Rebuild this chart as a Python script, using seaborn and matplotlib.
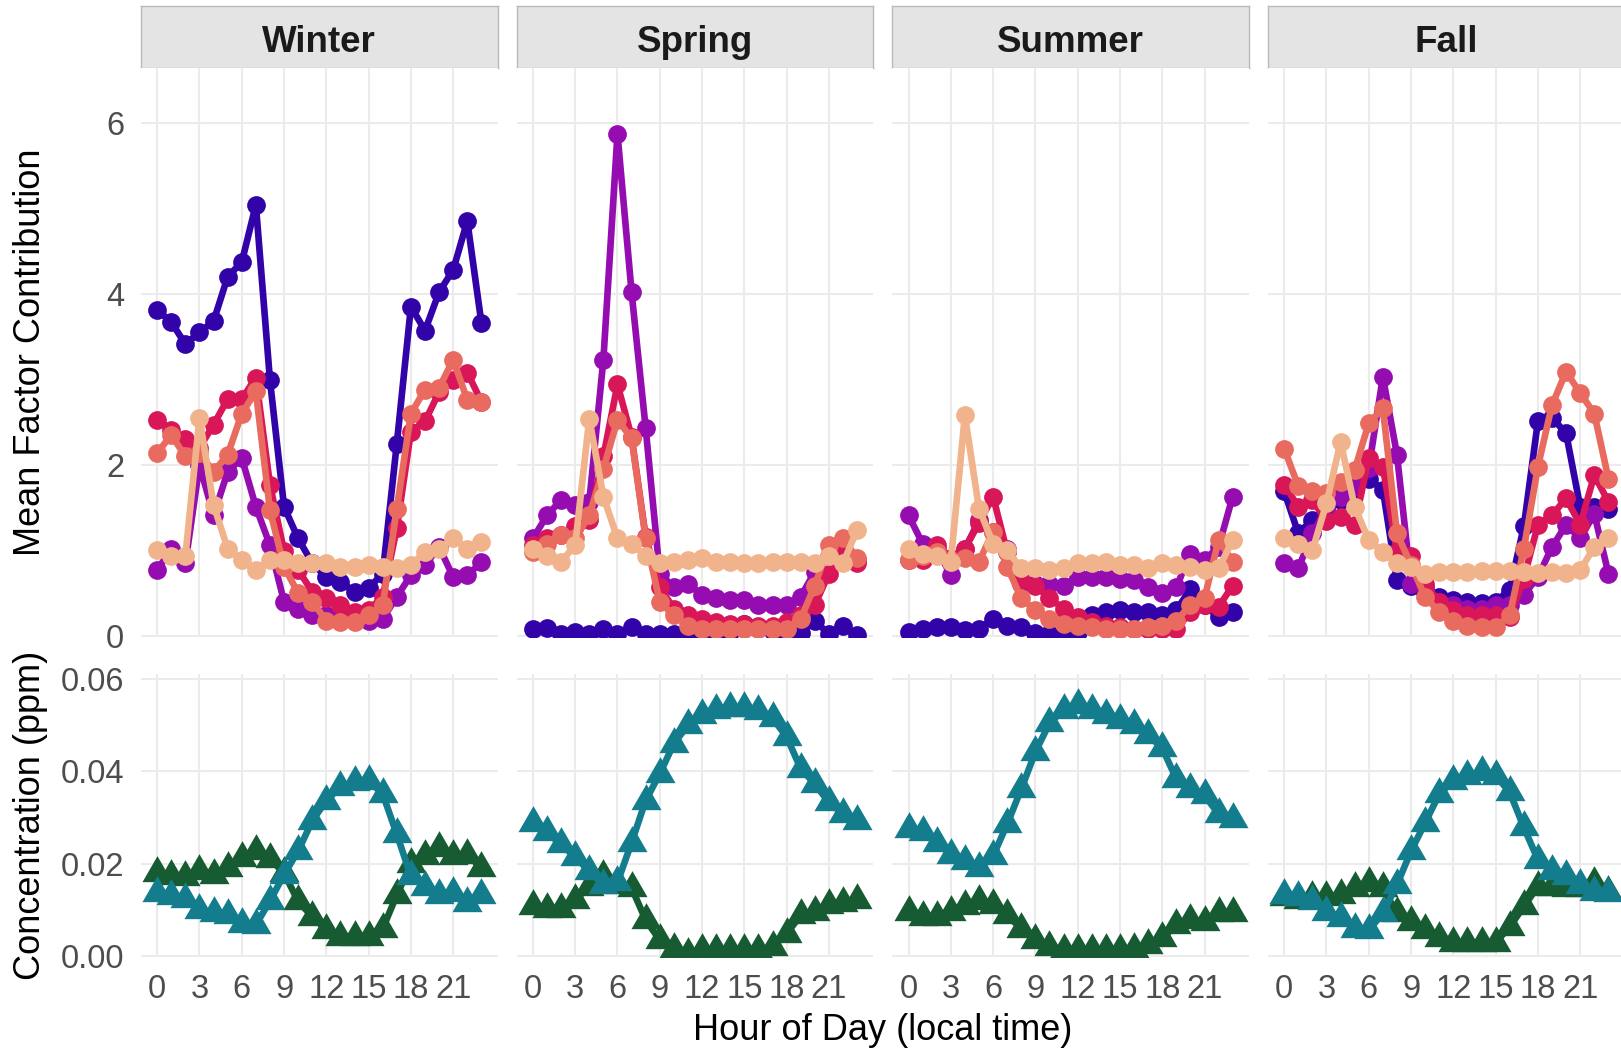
import numpy as np
import pandas as pd
import matplotlib
matplotlib.use('Agg')
import matplotlib.pyplot as plt
from matplotlib.path import Path
import seaborn as sns

hours = list(range(24))
seasons = ['Winter', 'Spring', 'Summer', 'Fall']
factors = ['Factor 1', 'Factor 2', 'Factor 3', 'Factor 4', 'Factor 5']
gases = ['NO2', 'O3']

factor_colors = ['#3103a8', '#950db0', '#d81658', '#e96a5f', '#f1b38b']
gas_colors = ['#165b32', '#137d8e']

# mean factor contribution, one list per factor and season
winter_f1 = [3.81, 3.67, 3.41, 3.55, 3.68, 4.20, 4.37, 5.04, 2.99, 1.51, 1.14, 0.85, 0.69, 0.63, 0.52, 0.56, 0.73, 2.25, 3.85, 3.57, 4.02, 4.28, 4.85, 3.66]
winter_f2 = [0.77, 1.02, 0.85, 2.00, 1.41, 1.92, 2.08, 1.51, 1.06, 0.40, 0.32, 0.24, 0.24, 0.20, 0.18, 0.18, 0.20, 0.46, 0.71, 0.83, 1.04, 0.69, 0.71, 0.86]
winter_f3 = [2.53, 2.41, 2.30, 2.20, 2.47, 2.77, 2.77, 3.02, 1.77, 0.99, 0.77, 0.52, 0.44, 0.36, 0.28, 0.30, 0.46, 1.26, 2.39, 2.51, 2.85, 2.99, 3.08, 2.74]
winter_f4 = [2.14, 2.35, 2.10, 2.14, 1.92, 2.12, 2.60, 2.86, 1.47, 0.81, 0.50, 0.40, 0.18, 0.16, 0.16, 0.24, 0.36, 1.49, 2.60, 2.88, 2.90, 3.23, 2.76, 2.74]
winter_f5 = [1.00, 0.94, 0.94, 2.55, 1.53, 1.02, 0.89, 0.77, 0.89, 0.89, 0.85, 0.85, 0.85, 0.81, 0.81, 0.83, 0.81, 0.79, 0.83, 0.98, 1.02, 1.14, 1.02, 1.10]

spring_f1 = [0.08, 0.09, 0.02, 0.05, 0.02, 0.08, 0.02, 0.10, 0.02, 0.02, 0.02, 0.02, 0.01, 0.01, 0.05, 0.14, 0.10, 0.06, 0.04, 0.03, 0.18, 0.02, 0.12, 0.01]
spring_f2 = [1.14, 1.41, 1.59, 1.53, 1.57, 3.23, 5.87, 4.02, 2.43, 0.73, 0.57, 0.61, 0.48, 0.44, 0.42, 0.42, 0.36, 0.36, 0.36, 0.46, 0.75, 0.93, 1.10, 0.89]
spring_f3 = [1.06, 1.14, 1.18, 1.28, 1.36, 2.10, 2.94, 2.33, 1.16, 0.57, 0.32, 0.24, 0.20, 0.16, 0.14, 0.14, 0.12, 0.12, 0.16, 0.24, 0.36, 0.73, 0.98, 0.85]
spring_f4 = [0.98, 1.08, 1.18, 1.14, 1.41, 1.95, 2.53, 2.31, 1.14, 0.40, 0.24, 0.12, 0.08, 0.08, 0.08, 0.08, 0.08, 0.08, 0.08, 0.20, 0.59, 1.06, 1.14, 0.91]
spring_f5 = [1.02, 0.94, 0.87, 1.06, 2.54, 1.63, 1.14, 1.08, 0.94, 0.85, 0.87, 0.89, 0.91, 0.87, 0.87, 0.85, 0.85, 0.87, 0.87, 0.87, 0.85, 0.94, 0.85, 1.24]

summer_f1 = [0.05, 0.08, 0.10, 0.10, 0.07, 0.08, 0.20, 0.12, 0.10, 0.04, 0.02, 0.02, 0.05, 0.24, 0.28, 0.30, 0.28, 0.28, 0.24, 0.30, 0.55, 0.36, 0.22, 0.28]
summer_f2 = [1.41, 1.08, 1.02, 0.71, 1.02, 1.35, 1.22, 1.02, 0.61, 0.61, 0.61, 0.59, 0.69, 0.69, 0.69, 0.67, 0.65, 0.57, 0.50, 0.57, 0.96, 0.89, 1.04, 1.63]
summer_f3 = [0.89, 0.89, 1.06, 0.91, 1.02, 1.32, 1.63, 0.98, 0.65, 0.59, 0.44, 0.32, 0.22, 0.16, 0.12, 0.10, 0.08, 0.08, 0.08, 0.08, 0.28, 0.36, 0.34, 0.59]
summer_f4 = [0.89, 0.93, 0.98, 0.89, 0.91, 0.87, 1.22, 0.81, 0.44, 0.30, 0.20, 0.14, 0.12, 0.10, 0.08, 0.08, 0.08, 0.10, 0.12, 0.18, 0.36, 0.44, 1.12, 0.87]
summer_f5 = [1.02, 0.96, 0.94, 0.87, 2.58, 1.49, 1.08, 1.00, 0.79, 0.79, 0.77, 0.79, 0.85, 0.85, 0.87, 0.83, 0.83, 0.79, 0.85, 0.83, 0.81, 0.77, 0.79, 1.12]

fall_f1 = [1.69, 1.20, 1.36, 1.50, 1.59, 1.71, 1.84, 1.71, 0.65, 0.59, 0.52, 0.46, 0.42, 0.40, 0.38, 0.40, 0.54, 1.28, 2.51, 2.55, 2.37, 1.51, 1.51, 1.49]
fall_f2 = [0.85, 0.79, 1.20, 1.49, 1.63, 1.75, 1.96, 3.03, 2.12, 0.61, 0.57, 0.40, 0.36, 0.32, 0.32, 0.36, 0.36, 0.48, 0.69, 1.04, 1.30, 1.14, 1.43, 0.73]
fall_f3 = [1.77, 1.51, 1.59, 1.34, 1.39, 1.30, 2.08, 1.98, 0.98, 0.93, 0.61, 0.40, 0.30, 0.24, 0.24, 0.24, 0.22, 0.67, 1.30, 1.41, 1.61, 1.30, 1.88, 1.57]
fall_f4 = [2.19, 1.75, 1.69, 1.67, 1.80, 1.94, 2.49, 2.66, 1.20, 0.83, 0.46, 0.28, 0.18, 0.12, 0.10, 0.10, 0.24, 1.02, 1.98, 2.70, 3.09, 2.84, 2.60, 1.84]
fall_f5 = [1.14, 1.08, 1.00, 1.55, 2.27, 1.51, 1.12, 0.98, 0.85, 0.81, 0.73, 0.75, 0.75, 0.75, 0.76, 0.76, 0.76, 0.75, 0.74, 0.75, 0.74, 0.77, 1.04, 1.14]

# concentrations (ppm)
winter_no2 = [0.0180, 0.0173, 0.0172, 0.0184, 0.0177, 0.0191, 0.0213, 0.0228, 0.0211, 0.0180, 0.0119, 0.0086, 0.0057, 0.0042, 0.0042, 0.0042, 0.0060, 0.0133, 0.0199, 0.0217, 0.0235, 0.0217, 0.0220, 0.0191]
winter_o3 = [0.0136, 0.0131, 0.0124, 0.0100, 0.0093, 0.0089, 0.0071, 0.0068, 0.0120, 0.0177, 0.0228, 0.0293, 0.0337, 0.0366, 0.0377, 0.0380, 0.0351, 0.0264, 0.0173, 0.0151, 0.0133, 0.0137, 0.0115, 0.0133]
spring_no2 = [0.0108, 0.0102, 0.0102, 0.0122, 0.0151, 0.0173, 0.0155, 0.0148, 0.0079, 0.0035, 0.0017, 0.0006, 0.0013, 0.0013, 0.0013, 0.0013, 0.0013, 0.0020, 0.0049, 0.0089, 0.0097, 0.0111, 0.0115, 0.0122]
spring_o3 = [0.0289, 0.0268, 0.0242, 0.0215, 0.0184, 0.0155, 0.0160, 0.0246, 0.0337, 0.0395, 0.0460, 0.0500, 0.0522, 0.0533, 0.0537, 0.0537, 0.0531, 0.0515, 0.0475, 0.0406, 0.0373, 0.0333, 0.0308, 0.0293]
summer_no2 = [0.0097, 0.0086, 0.0086, 0.0097, 0.0108, 0.0119, 0.0111, 0.0089, 0.0060, 0.0035, 0.0020, 0.0013, 0.0013, 0.0013, 0.0014, 0.0014, 0.0016, 0.0025, 0.0039, 0.0068, 0.0079, 0.0075, 0.0093, 0.0093]
summer_o3 = [0.0275, 0.0268, 0.0246, 0.0220, 0.0206, 0.0191, 0.0217, 0.0286, 0.0362, 0.0442, 0.0504, 0.0533, 0.0543, 0.0533, 0.0522, 0.0511, 0.0500, 0.0479, 0.0450, 0.0384, 0.0362, 0.0348, 0.0308, 0.0297]
fall_no2 = [0.0129, 0.0122, 0.0129, 0.0129, 0.0133, 0.0148, 0.0159, 0.0148, 0.0093, 0.0075, 0.0057, 0.0039, 0.0028, 0.0028, 0.0028, 0.0030, 0.0064, 0.0108, 0.0151, 0.0151, 0.0148, 0.0148, 0.0159, 0.0140]
fall_o3 = [0.0133, 0.0129, 0.0119, 0.0097, 0.0082, 0.0060, 0.0057, 0.0093, 0.0155, 0.0228, 0.0289, 0.0351, 0.0380, 0.0391, 0.0399, 0.0391, 0.0355, 0.0279, 0.0209, 0.0184, 0.0173, 0.0155, 0.0140, 0.0137]

factor_data = {
    'Winter': [winter_f1, winter_f2, winter_f3, winter_f4, winter_f5],
    'Spring': [spring_f1, spring_f2, spring_f3, spring_f4, spring_f5],
    'Summer': [summer_f1, summer_f2, summer_f3, summer_f4, summer_f5],
    'Fall': [fall_f1, fall_f2, fall_f3, fall_f4, fall_f5],
}
gas_data = {
    'Winter': [winter_no2, winter_o3],
    'Spring': [spring_no2, spring_o3],
    'Summer': [summer_no2, summer_o3],
    'Fall': [fall_no2, fall_o3],
}

sns.set_theme(style='white')
plt.rcParams['font.family'] = ['Liberation Sans', 'DejaVu Sans']

W, H = 1621, 1048
fig = plt.figure(figsize=(W / 100, H / 100), dpi=100)

# layout in pixels (from top-left)
col_left = [141, 516.7, 892.3, 1268]
col_w = 356.6
strip_top, strip_bot = 6, 68.3
top_bot = 636.5
low_top, low_bot = 674.3, 957.3

tri = Path([(0, 1), (-0.866, -0.5), (0.866, -0.5), (0, 1)],
           [Path.MOVETO, Path.LINETO, Path.LINETO, Path.CLOSEPOLY])

grid_col = '#ebebeb'
tick_col = '#4d4d4d'

def style_axes(ax):
    for s in ax.spines.values():
        s.set_visible(False)
    ax.set_facecolor('white')
    ax.grid(True, color=grid_col, linewidth=1.5)
    ax.set_axisbelow(True)
    ax.set_xlim(-1.15, 24.15)
    ax.set_xticks(range(0, 24, 3))
    ax.tick_params(length=0, labelsize=23.5, labelcolor=tick_col)
    ax.tick_params(axis='y', pad=12)
    ax.tick_params(axis='x', pad=12)
    ax.set_xlabel('')
    ax.set_ylabel('')

for i, season in enumerate(seasons):
    left = col_left[i] / W

    # strip
    sax = fig.add_axes([left, 1 - strip_bot / H, col_w / W, (strip_bot - strip_top) / H])
    sax.set_facecolor('#e4e4e4')
    for s in sax.spines.values():
        s.set_color('#b9b9b9')
        s.set_linewidth(1.0)
    sax.set_xticks([])
    sax.set_yticks([])
    sax.text(0.5, 0.266, season, ha='center', va='baseline', fontsize=26.5,
             fontweight='bold', color='#1a1a1a', transform=sax.transAxes)

    # factor contributions
    ax1 = fig.add_axes([left, 1 - top_bot / H, col_w / W, (top_bot - strip_bot) / H])
    df1 = pd.DataFrame({
        'hour': hours * len(factors),
        'value': sum(factor_data[season], []),
        'factor': np.repeat(factors, len(hours)),
    })
    sns.lineplot(data=df1, x='hour', y='value', hue='factor', hue_order=factors,
                 palette=factor_colors, marker='o', markersize=13.5,
                 markeredgewidth=0, linewidth=4.8, errorbar=None, legend=False, ax=ax1)
    style_axes(ax1)
    ax1.set_ylim(-0.006, 6.636)
    ax1.set_yticks([0, 2, 4, 6])
    ax1.set_xticklabels([])
    if i > 0:
        ax1.set_yticklabels([])

    # concentrations
    ax2 = fig.add_axes([left, 1 - low_bot / H, col_w / W, (low_bot - low_top) / H])
    df2 = pd.DataFrame({
        'hour': hours * len(gases),
        'value': sum(gas_data[season], []),
        'gas': np.repeat(gases, len(hours)),
    })
    sns.lineplot(data=df2, x='hour', y='value', hue='gas', hue_order=gases,
                 palette=gas_colors, marker=tri, markersize=25,
                 markeredgewidth=0, linewidth=4.8, errorbar=None, legend=False, ax=ax2)
    style_axes(ax2)
    ax2.set_ylim(-0.0002, 0.0610)
    ax2.set_yticks([0, 0.02, 0.04, 0.06])
    ax2.set_yticklabels(['0.00', '0.02', '0.04', '0.06'])
    if i > 0:
        ax2.set_yticklabels([])

fig.text(882.8 / W, 1 - 1030 / H, 'Hour of Day (local time)', ha='center', va='center',
         fontsize=26, color='black')
fig.text(31 / W, 1 - 352.4 / H, 'Mean Factor Contribution', ha='center', va='center',
         rotation=90, fontsize=26, color='black')
fig.text(31 / W, 1 - 815 / H, 'Concentration (ppm)', ha='center', va='center',
         rotation=90, fontsize=26, color='black')

fig.savefig('out.png', dpi=100, facecolor='white')
